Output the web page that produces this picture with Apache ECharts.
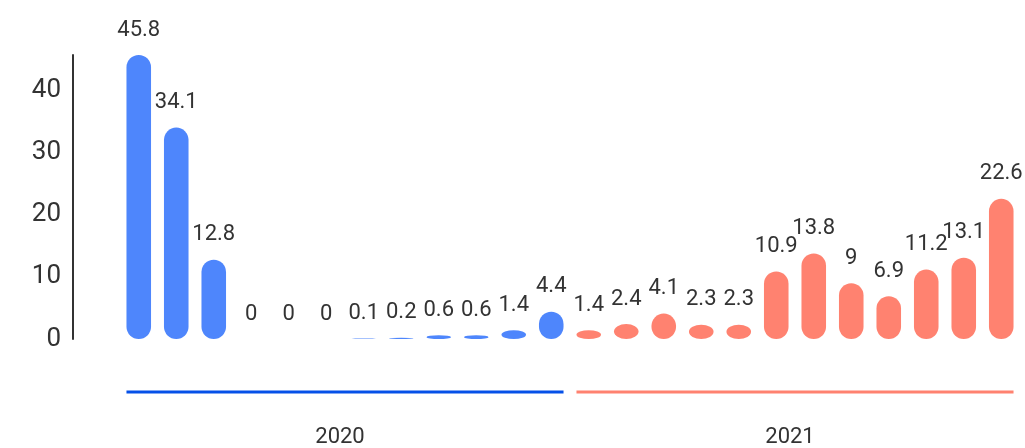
<!DOCTYPE html>
<html>
<head>
<meta charset="utf-8">
<script src="https://cdn.jsdelivr.net/npm/echarts@6/dist/echarts.min.js"></script>
<style>html,body{margin:0;padding:0;background:#fff}#c{width:1025px;height:448px}</style>
</head>
<body>
<div id="c"></div>
<script>
const years = ['2020', '2021'];
const categories = [
  '2020-01','2020-02','2020-03','2020-04','2020-05','2020-06',
  '2020-07','2020-08','2020-09','2020-10','2020-11','2020-12',
  '2021-01','2021-02','2021-03','2021-04','2021-05','2021-06',
  '2021-07','2021-08','2021-09','2021-10','2021-11','2021-12'
];
const values2020 = [45.8, 34.1, 12.8, 0, 0, 0, 0.1, 0.2, 0.6, 0.6, 1.4, 4.4];
const values2021 = [1.4, 2.4, 4.1, 2.3, 2.3, 10.9, 13.8, 9, 6.9, 11.2, 13.1, 22.6];
const yTickInterval = 10;

const BLUE = '#4e86fc';
const RED = '#ff8270';
const BLUE_LINE = '#0550e8';
const TEXT = '#333333';
const BAR_RATIO = 0.655;
const FONT = 'Roboto, "Noto Sans", sans-serif';

function pillPath(x0, y0, w, h) {
  const rx = w / 2, ry = Math.min(w / 2, h / 2);
  const x1 = x0 + w, y1 = y0 + h;
  return 'M' + x0 + ' ' + (y0 + ry) +
    ' A' + rx + ' ' + ry + ' 0 0 1 ' + (x0 + rx) + ' ' + y0 +
    ' A' + rx + ' ' + ry + ' 0 0 1 ' + x1 + ' ' + (y0 + ry) +
    ' L' + x1 + ' ' + (y1 - ry) +
    ' A' + rx + ' ' + ry + ' 0 0 1 ' + (x0 + rx) + ' ' + y1 +
    ' A' + rx + ' ' + ry + ' 0 0 1 ' + x0 + ' ' + (y1 - ry) + ' Z';
}

function barRenderer(color) {
  return function (params, api) {
    const idx = api.value(0), v = api.value(1);
    const base = api.coord([idx, 0]);
    const top = api.coord([idx, v]);
    const band = api.size([1, 0])[0];
    const w = band * BAR_RATIO;
    const h = base[1] - top[1];
    const children = [];
    if (h > 0.3) {
      children.push({
        type: 'path',
        shape: { pathData: pillPath(base[0] - w / 2, top[1], w, h) },
        style: { fill: color }
      });
    }
    children.push({
      type: 'text',
      style: {
        text: String(v), x: base[0], y: top[1] - 25,
        align: 'center', verticalAlign: 'middle',
        font: '22px ' + FONT, fill: TEXT
      }
    });
    return { type: 'group', children: children };
  };
}

function yearLineRenderer(params, api) {
  const yi = api.value(0);
  const p = api.coord([yi, 0]);
  const yearBand = api.size([1, 0])[0];
  const monthBand = yearBand / 12;
  const gap = monthBand * (1 - BAR_RATIO) / 2;
  const y = p[1] + 53;
  return {
    type: 'line',
    shape: { x1: p[0] - yearBand / 2 + gap, y1: y, x2: p[0] + yearBand / 2 - gap, y2: y },
    style: { stroke: yi === 0 ? BLUE_LINE : RED, lineWidth: 3 }
  };
}

const chart = echarts.init(document.getElementById('c'), null, { renderer: 'canvas' });
chart.setOption({
  animation: false,
  backgroundColor: '#ffffff',
  grid: { left: 120, right: 5, top: 55, bottom: 106, containLabel: false },
  xAxis: [
    {
      type: 'category', data: categories, position: 'bottom',
      axisLine: { show: false }, axisTick: { show: false }, axisLabel: { show: false },
      splitLine: { show: false }
    },
    {
      type: 'category', data: years, position: 'bottom',
      axisLine: { show: false }, axisTick: { show: false }, splitLine: { show: false },
      axisLabel: { margin: 87, fontSize: 22, fontFamily: FONT, color: TEXT, padding: [0, 10, 0, 0] }
    }
  ],
  yAxis: {
    type: 'value', min: 0, max: 'dataMax', interval: yTickInterval, offset: 47,
    axisLine: { show: true, lineStyle: { color: '#333', width: 2 } },
    axisTick: { show: false }, splitLine: { show: false },
    axisLabel: { margin: 12, fontSize: 26, fontFamily: FONT, color: TEXT, showMaxLabel: false }
  },
  series: [
    {
      type: 'custom', name: '2020', xAxisIndex: 0, yAxisIndex: 0,
      renderItem: barRenderer(BLUE),
      encode: { x: 0, y: 1 },
      data: values2020.map((v, i) => [i, v])
    },
    {
      type: 'custom', name: '2021', xAxisIndex: 0, yAxisIndex: 0,
      renderItem: barRenderer(RED),
      encode: { x: 0, y: 1 },
      data: values2021.map((v, i) => [i + values2020.length, v])
    },
    {
      type: 'custom', name: 'years', xAxisIndex: 1, yAxisIndex: 0, silent: true,
      renderItem: yearLineRenderer,
      encode: { x: 0, y: 1 },
      data: years.map((y, i) => [i, 0])
    }
  ]
});
</script>
</body>
</html>
